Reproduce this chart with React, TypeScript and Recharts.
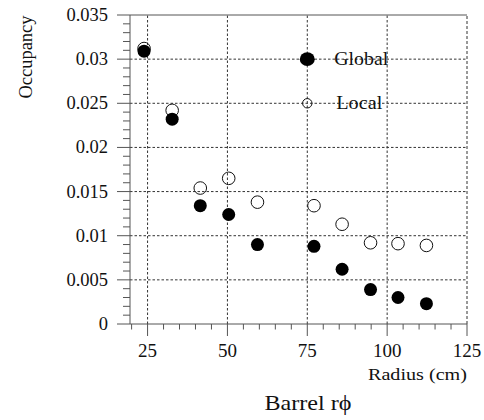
import { ScatterChart, Scatter, XAxis, YAxis, ReferenceLine, Label } from 'recharts'

const radius = [23.9, 32.7, 41.5, 50.4, 59.4, 77.1, 85.9, 94.8, 103.4, 112.3]
const globalOcc = [0.0309, 0.0232, 0.0134, 0.0124, 0.009, 0.0088, 0.0062, 0.0039, 0.003, 0.0023]
const localOcc = [0.0312, 0.0242, 0.0154, 0.0165, 0.0138, 0.0134, 0.0113, 0.0092, 0.0091, 0.0089]

const xMajor = [25, 50, 75, 100, 125]
const xTicks = Array.from({ length: 22 }, (_, i) => 20 + i * 5)
const yMajor = [0, 0.005, 0.01, 0.015, 0.02, 0.025, 0.03, 0.035]
const yLabels = ['0', '0.005', '0.01', '0.015', '0.02', '0.025', '0.03', '0.035']
const yTicks = Array.from({ length: 36 }, (_, i) => i / 1000)

const legendGlobal = [{ x: 75, y: 0.03, name: 'Global' }]
const legendLocal = [{ x: 75, y: 0.025, name: 'Local' }]

const globalData = radius.map((x, i) => ({ x, y: globalOcc[i] }))
const localData = radius.map((x, i) => ({ x, y: localOcc[i] }))

const FONT = 'Liberation Serif'
const INK = '#111'
const AXIS = '#555'
const GRID = '#333'

const YTick = (props: any) => {
  const { x, y, payload } = props
  const idx = yMajor.findIndex(v => Math.abs(v - payload.value) < 1e-9)
  const major = idx >= 0
  return (
    <g>
      <line x1={x - (major ? 13 : 7)} x2={x} y1={y} y2={y} stroke={AXIS} />
      {major && (
        <text x={x - 22} y={y} dy={6} textAnchor="end" style={{ fontFamily: FONT }} fontSize={18.5} fill={INK}>
          {yLabels[idx]}
        </text>
      )}
    </g>
  )
}

const XTick = (props: any) => {
  const { x, y, payload } = props
  const major = xMajor.includes(payload.value)
  return (
    <g>
      <line x1={x} x2={x} y1={y} y2={y + (major ? 12 : 5.5)} stroke={AXIS} />
      {major && (
        <text x={x} y={y + 33} textAnchor="middle" style={{ fontFamily: FONT }} fontSize={19} fill={INK}>
          {payload.value}
        </text>
      )}
    </g>
  )
}

const FilledDot = (props: any) => <circle cx={props.cx} cy={props.cy} r={6.5} fill="#000" />
const OpenDot = (props: any) => <circle cx={props.cx} cy={props.cy} r={6.3} fill="none" stroke="#111" strokeWidth={1} />

const LegendGlobal = (props: any) => (
  <g>
    <ellipse cx={props.cx} cy={props.cy} rx={7.5} ry={6.8} fill="#000" />
    <text x={props.cx + 27} y={props.cy + 6} style={{ fontFamily: FONT }} fontSize={18} textLength={54} lengthAdjust="spacingAndGlyphs" fill={INK}>
      {props.payload.name}
    </text>
  </g>
)

const LegendLocal = (props: any) => (
  <g>
    <circle cx={props.cx} cy={props.cy} r={4.7} fill="none" stroke="#111" />
    <text x={props.cx + 29} y={props.cy + 6} style={{ fontFamily: FONT }} fontSize={18} textLength={46} lengthAdjust="spacingAndGlyphs" fill={INK}>
      {props.payload.name}
    </text>
  </g>
)

export default function App() {
  return (
    <div style={{ position: 'absolute', left: 0, top: 0, width: 484, height: 420, background: '#fff', fontFamily: FONT }}>
      <ScatterChart width={484} height={420} margin={{ top: 15, right: 17, bottom: 0, left: 0 }}>
        <XAxis
          type="number"
          dataKey="x"
          domain={[19.5, 125]}
          allowDataOverflow
          ticks={xTicks}
          interval={0}
          tick={<XTick />}
          tickSize={0}
          tickMargin={0}
          height={96}
          axisLine={{ stroke: AXIS }}
        >
          <Label
            content={(p: any) => (
              <g>
                <text x={p.viewBox.x + p.viewBox.width} y={p.viewBox.y + 56} textAnchor="end" style={{ fontFamily: FONT }} fontSize={17} textLength={99} lengthAdjust="spacingAndGlyphs" fill={INK}>
                  Radius (cm)
                </text>
                <text x={p.viewBox.x + 178} y={p.viewBox.y + 86} textAnchor="middle" style={{ fontFamily: FONT }} fontSize={22} textLength={87} lengthAdjust="spacingAndGlyphs" fill={INK}>
                  Barrel rϕ
                </text>
              </g>
            )}
          />
        </XAxis>
        <YAxis
          type="number"
          dataKey="y"
          domain={[0, 0.035]}
          allowDataOverflow
          ticks={yTicks}
          interval={0}
          tick={<YTick />}
          tickSize={0}
          tickMargin={0}
          width={130}
          axisLine={{ stroke: AXIS }}
        >
          <Label
            content={(p: any) => (
              <text x={32} y={p.viewBox.y + 42} transform={`rotate(-90, 32, ${p.viewBox.y + 42})`} textAnchor="middle" style={{ fontFamily: FONT }} fontSize={18} textLength={83} lengthAdjust="spacingAndGlyphs" fill={INK}>
                Occupancy
              </text>
            )}
          />
        </YAxis>
        {xMajor.slice(0, 4).map(v => (
          <ReferenceLine key={`gx${v}`} x={v} stroke={GRID} strokeDasharray="2.5 2" />
        ))}
        <ReferenceLine x={125} stroke={GRID} strokeDasharray="3 2" />
        {yMajor.slice(1, 7).map(v => (
          <ReferenceLine key={`gy${v}`} y={v} stroke={GRID} strokeDasharray="2.5 2" />
        ))}
        <ReferenceLine y={0.035} stroke={AXIS} />
        <Scatter data={localData} shape={OpenDot} isAnimationActive={false} />
        <Scatter data={globalData} shape={FilledDot} isAnimationActive={false} />
        <Scatter data={legendGlobal} shape={LegendGlobal} isAnimationActive={false} />
        <Scatter data={legendLocal} shape={LegendLocal} isAnimationActive={false} />
      </ScatterChart>
    </div>
  )
}
